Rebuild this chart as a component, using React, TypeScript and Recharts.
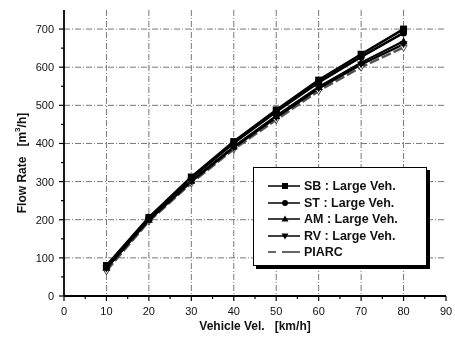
import React from 'react';
import { LineChart, Line, XAxis, YAxis, CartesianGrid } from 'recharts';

const velocity = [10, 20, 30, 40, 50, 60, 70, 80];
const sbLarge = [80, 206, 312, 405, 488, 566, 634, 700];
const stLarge = [78, 204, 309, 401, 483, 560, 627, 690];
const amLarge = [74, 200, 302, 392, 472, 548, 612, 668];
const rvLarge = [72, 199, 300, 389, 468, 544, 607, 660];
const piarc = [66, 196, 296, 385, 462, 538, 600, 652];

const xTicks = [0, 5, 10, 15, 20, 25, 30, 35, 40, 45, 50, 55, 60, 65, 70, 75, 80, 85, 90];
const yTicks = [0, 50, 100, 150, 200, 250, 300, 350, 400, 450, 500, 550, 600, 650, 700];
const xGrid = [10, 20, 30, 40, 50, 60, 70, 80];
const yGrid = [100, 200, 300, 400, 500, 600, 700];

const seriesNames = ['SB : Large Veh.', 'ST : Large Veh.', 'AM : Large Veh.', 'RV : Large Veh.', 'PIARC'];

const data = velocity.map((v, i) => ({
  v,
  sb: sbLarge[i],
  st: stLarge[i],
  am: amLarge[i],
  rv: rvLarge[i],
  piarc: piarc[i],
}));

const FONT = '"Liberation Sans", Arial, sans-serif';

const XTick = (props: any) => {
  const { x, y, payload } = props;
  const major = payload.value % 10 === 0;
  return (
    <g>
      <line x1={x} x2={x} y1={y} y2={y + (major ? 5 : 3)} stroke="#000" strokeWidth={1.2} />
      {major && (
        <text x={x} y={y + 19} textAnchor="middle" fontSize={11} fontFamily={FONT} fill="#111">
          {payload.value}
        </text>
      )}
    </g>
  );
};

const YTick = (props: any) => {
  const { x, y, payload } = props;
  const major = payload.value % 100 === 0;
  return (
    <g>
      <line x1={x - (major ? 5 : 3)} x2={x} y1={y} y2={y} stroke="#000" strokeWidth={1.2} />
      {major && (
        <text x={x - 10} y={y + 4} textAnchor="end" fontSize={11} fontFamily={FONT} fill="#111">
          {payload.value}
        </text>
      )}
    </g>
  );
};

const Square = (props: any) => {
  const { cx, cy, index } = props;
  return <rect key={`sq-${index}`} x={cx - 3.5} y={cy - 3.5} width={7} height={7} fill="#000" />;
};
const Circle = (props: any) => {
  const { cx, cy, index } = props;
  return <circle key={`ci-${index}`} cx={cx} cy={cy} r={3.5} fill="#000" />;
};
const TriUp = (props: any) => {
  const { cx, cy, index } = props;
  return <path key={`tu-${index}`} d={`M${cx},${cy - 4} L${cx + 4},${cy + 3} L${cx - 4},${cy + 3} Z`} fill="#000" />;
};
const TriDown = (props: any) => {
  const { cx, cy, index } = props;
  return <path key={`td-${index}`} d={`M${cx},${cy + 4} L${cx + 4},${cy - 3} L${cx - 4},${cy - 3} Z`} fill="#000" />;
};
const OpenTri = (props: any) => {
  const { cx, cy, index } = props;
  return (
    <path
      key={`ot-${index}`}
      d={`M${cx},${cy + 4} L${cx + 3.5},${cy - 2} L${cx - 3.5},${cy - 2} Z`}
      fill="#fff"
      stroke="#444"
      strokeWidth={1}
    />
  );
};

const legendMarkers = [
  (cx: number, cy: number) => <rect x={cx - 3} y={cy - 3} width={6} height={6} fill="#000" />,
  (cx: number, cy: number) => <circle cx={cx} cy={cy} r={3} fill="#000" />,
  (cx: number, cy: number) => <path d={`M${cx},${cy - 3.5} L${cx + 3.5},${cy + 2.5} L${cx - 3.5},${cy + 2.5} Z`} fill="#000" />,
  (cx: number, cy: number) => <path d={`M${cx},${cy + 3.5} L${cx + 3.5},${cy - 2.5} L${cx - 3.5},${cy - 2.5} Z`} fill="#000" />,
  null,
];

const Legend = () => (
  <div
    style={{
      position: 'absolute',
      left: 245,
      top: 159,
      width: 174,
      height: 99,
      border: '1px solid #000',
      background: '#fff',
      boxShadow: '3px 3px 0 #000',
      boxSizing: 'border-box',
      paddingTop: 10,
    }}
  >
    {seriesNames.map((name, i) => (
      <div key={name} style={{ display: 'flex', alignItems: 'center', height: 16.5 }}>
        <svg width={50} height={12} style={{ display: 'block' }}>
          {i < 4 ? (
            <line x1={14} x2={46} y1={6} y2={6} stroke="#000" strokeWidth={1.5} />
          ) : (
            <>
              <line x1={14} x2={22} y1={6} y2={6} stroke="#333" strokeWidth={1.5} />
              <line x1={28} x2={46} y1={6} y2={6} stroke="#333" strokeWidth={1.5} />
            </>
          )}
          {legendMarkers[i] ? legendMarkers[i]!(31, 6) : null}
        </svg>
        <span style={{ fontFamily: FONT, fontWeight: 'bold', fontSize: 12.5, color: '#111', whiteSpace: 'nowrap' }}>
          {name}
        </span>
      </div>
    ))}
  </div>
);

const YLabel = (props: any) => {
  const { viewBox } = props;
  const x = viewBox.x + 14;
  const y = viewBox.y + viewBox.height / 2 + 10;
  return (
    <text
      x={x}
      y={y}
      transform={`rotate(-90 ${x} ${y})`}
      textAnchor="middle"
      dominantBaseline="central"
      fontFamily={FONT}
      fontWeight="bold"
      fontSize={12}
      fill="#111"
    >
      Flow Rate{'\u00A0\u00A0\u00A0'}[m<tspan baselineShift="super" fontSize={8}>3</tspan>/h]
    </text>
  );
};

const XLabel = (props: any) => {
  const { viewBox } = props;
  const x = viewBox.x + viewBox.width / 2;
  const y = viewBox.y + 34;
  return (
    <text x={x} y={y} textAnchor="middle" fontFamily={FONT} fontWeight="bold" fontSize={12} fill="#111">
      Vehicle Vel.{'\u00A0\u00A0\u00A0'}[km/h]
    </text>
  );
};

export default function App() {
  return (
    <div style={{ position: 'fixed', left: 8, top: 8, width: 447, height: 324 }}>
      <style>{'.recharts-surface{overflow:visible}'}</style>
      <LineChart width={447} height={324} data={data} margin={{ top: 2, right: 9, left: 0, bottom: 0 }}>
        <CartesianGrid
          horizontalValues={yGrid}
          verticalValues={xGrid}
          stroke="#777"
          strokeWidth={1}
          strokeDasharray="6 2 1 2"
        />
        <XAxis
          dataKey="v"
          type="number"
          domain={[0, 90]}
          ticks={xTicks}
          interval={0}
          tickSize={0}
          tickMargin={0}
          tickLine={false}
          tick={<XTick />}
          axisLine={{ stroke: '#000', strokeWidth: 1.8 }}
          height={36}
          label={<XLabel />}
        />
        <YAxis
          type="number"
          domain={[0, 750]}
          ticks={yTicks}
          interval={0}
          tickSize={0}
          tickMargin={0}
          tickLine={false}
          tick={<YTick />}
          axisLine={{ stroke: '#000', strokeWidth: 1.8 }}
          width={56}
          label={<YLabel />}
        />
        <Line dataKey="piarc" stroke="#555" strokeWidth={2.5} strokeDasharray="10 3" dot={<OpenTri />} isAnimationActive={false} />
        <Line dataKey="rv" stroke="#000" strokeWidth={2.2} dot={<TriDown />} isAnimationActive={false} />
        <Line dataKey="am" stroke="#000" strokeWidth={2.2} dot={<TriUp />} isAnimationActive={false} />
        <Line dataKey="st" stroke="#000" strokeWidth={2.5} dot={<Circle />} isAnimationActive={false} />
        <Line dataKey="sb" stroke="#000" strokeWidth={2.5} dot={<Square />} isAnimationActive={false} />
      </LineChart>
      <Legend />
    </div>
  );
}
